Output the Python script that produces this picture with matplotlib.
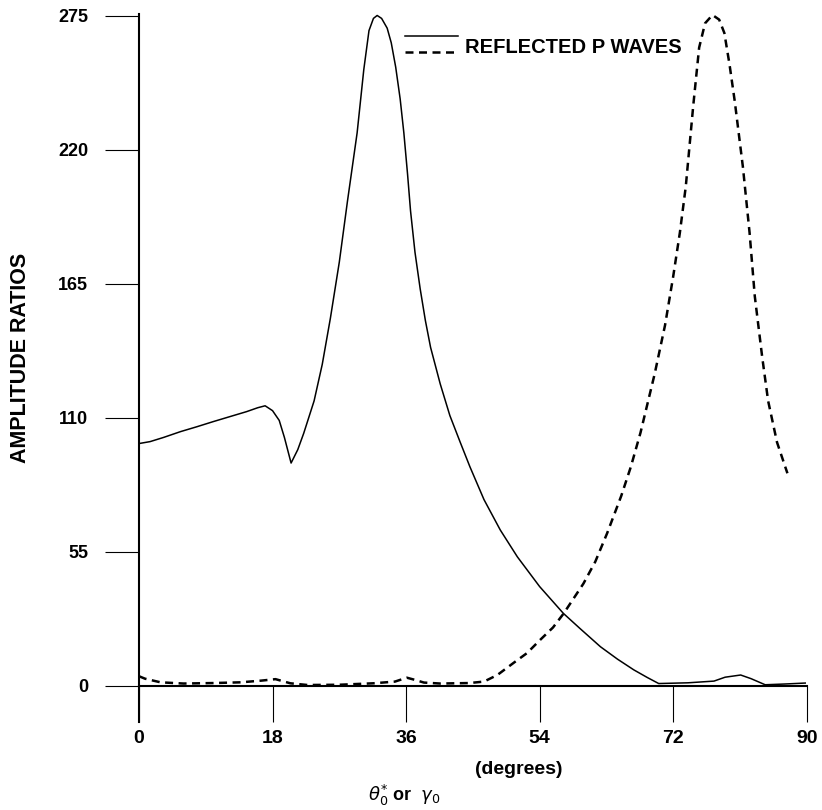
import matplotlib
matplotlib.use("Agg")
import matplotlib.pyplot as plt
from matplotlib.lines import Line2D

# ---- data ----
solid_x = [0, 1.5, 3.3, 5.6, 7.8, 10.0, 12.3, 14.5, 16.0, 17.0, 18.0, 18.9, 19.6, 20.5,
           21.4, 22.2, 23.6, 24.7, 25.8, 27.0, 28.1, 29.4, 30.3, 31.0, 31.6, 32.1,
           32.7, 33.45, 34.0, 34.6, 35.2, 35.7, 36.2, 36.6, 37.2, 37.9, 38.6, 39.3,
           40.6, 41.9, 43.3, 44.6, 46.5, 48.7, 51.0, 54.0, 57.2, 59.4, 62.2, 64.5,
           66.7, 68.5, 70.05, 74.0, 77.5, 79.0, 81.1, 82.5, 84.4, 87.0, 89.8]
solid_y = [99.5, 100.3, 102, 104.4, 106.4, 108.5, 110.6, 112.6, 114.2, 115, 113, 109,
           102, 91.5, 97.0, 103.7, 117, 132, 151, 174, 199, 227, 253, 269, 274, 275.2,
           274, 270, 264, 254, 241, 227, 210, 195, 178, 163, 150, 139,
           124, 111, 100, 90, 76.5, 64, 53, 40.8, 29.8, 23.7, 16.1, 11,
           6.6, 3.5, 1.0, 1.3, 2.0, 3.6, 4.5, 3.0, 0.5, 0.8, 1.2]

dashed_x = [0, 0.8, 2.9, 6, 10, 13.7, 16.5, 18.4, 20.4, 22.7, 27, 31.6, 34.5, 36.1,
            37.2, 38.4, 40.6, 44.5, 46.5, 48.3, 50.5, 52.3, 54.1, 55.8, 57.25, 59.9,
            61.5, 63.1, 65.0, 66.3, 67.6, 69.5, 70.9, 72.0, 72.9, 73.7, 74.7, 75.5,
            76.3, 77.3, 78.2, 78.9, 79.6, 80.3, 81.4, 82.3, 83.0, 84.0, 84.8, 86.0,
            87.1, 87.4]
dashed_y = [4.0, 3.0, 1.5, 1.0, 1.2, 1.5, 2.2, 2.8, 1.1, 0.4, 0.5, 1.1, 1.8, 3.4,
            2.5, 1.4, 1.0, 1.2, 1.8, 4.5, 9.5, 13.5, 19, 24, 29.8, 42,
            51, 62.7, 78, 90, 104, 128, 148, 168, 186, 205, 238, 262,
            272, 275.4, 273.5, 268, 255, 240, 213, 186, 160, 135, 117, 100,
            90, 87.3]

x_ticks = [0, 18, 36, 54, 72, 90]
y_ticks = [0, 55, 110, 165, 220, 275]
legend_label = "REFLECTED P WAVES"
y_label = "AMPLITUDE RATIOS"
x_label_1 = "(degrees)"
x_label_2 = r"$\theta_0^{*}$ or  $\gamma_0$"

narrow = ["Liberation Sans Narrow", "Liberation Sans", "DejaVu Sans"]
wide = ["Liberation Sans", "DejaVu Sans"]

fig = plt.figure(figsize=(8.22, 8.10), dpi=100)
ax = fig.add_axes([0.1691, 0.1086, 0.8123, 0.8741])

ax.plot(solid_x, solid_y, color="black", lw=1.1, solid_joinstyle="round", clip_on=False)
ax.plot(dashed_x, dashed_y, color="black", lw=1.8, linestyle=(0, (3.2, 2.2)), clip_on=False)

ax.set_xlim(0, 90)
ax.set_ylim(-14.8, 275.8)

for s in ("top", "right"):
    ax.spines[s].set_visible(False)
ax.spines["bottom"].set_position(("data", 0))
ax.spines["bottom"].set_linewidth(1.5)
ax.spines["left"].set_linewidth(1.5)

ax.set_xticks(x_ticks)
ax.set_xticklabels([str(v) for v in x_ticks], fontfamily=narrow, fontweight="bold", fontsize=14)
ax.set_yticks(y_ticks)
ax.set_yticklabels([str(v) for v in y_ticks], fontfamily=wide, fontweight="bold", fontsize=13)
ax.tick_params(axis="x", direction="out", length=25.9, width=0.8, pad=6)
ax.tick_params(axis="y", direction="out", length=24.5, width=0.8, pad=12)

# legend drawn as in the original (two line samples, one label)
ax.add_line(Line2D([0.398, 0.478], [0.969, 0.969], transform=ax.transAxes,
                   color="black", lw=1.1, clip_on=False))
ax.add_line(Line2D([0.398, 0.478], [0.946, 0.946], transform=ax.transAxes,
                   color="black", lw=1.8, linestyle=(0, (3.2, 2.2)), clip_on=False))
ax.text(0.488, 0.953, legend_label, transform=ax.transAxes, ha="left", va="center",
        fontfamily=wide, fontweight="bold", fontsize=14.5)

fig.text(21 / 822, 1 - 358 / 810, y_label, rotation=90, ha="center", va="center",
         fontfamily=narrow, fontweight="bold", fontsize=15.5)
fig.text(519 / 822, 1 - 770 / 810, x_label_1, ha="center", va="center",
         fontfamily=narrow, fontweight="bold", fontsize=14)
fig.text(404 / 822, 1 - 795 / 810, x_label_2, ha="center", va="center",
         fontfamily=narrow, fontweight="bold", fontsize=13)

fig.savefig("out.png", dpi=100)
